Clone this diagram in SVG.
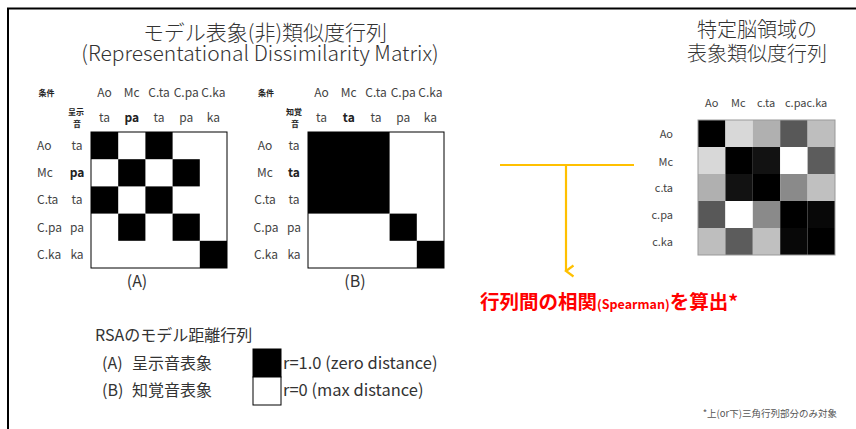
<svg xmlns="http://www.w3.org/2000/svg" width="856" height="429" viewBox="0 0 856 429">
<style>
text{font-family:"Noto Sans CJK JP","Liberation Sans",sans-serif;fill:#333}
.t{font-size:21px;font-weight:300}
.t2{font-size:20px;font-weight:300}
.h{font-size:12px;fill:#444}
.hb{font-size:12px;font-weight:bold;fill:#222}
.s{font-size:8px;font-weight:bold;fill:#222}
.rl{font-size:11px;fill:#444}
.lg{font-size:16px;fill:#333}
.blk{fill:#000}
.mx{fill:#fff;stroke:#000;stroke-width:1}
.conn{stroke:#FFC000;stroke-width:2.2;fill:none}
</style>
<defs>
<marker id="chev" markerWidth="14" markerHeight="12" refX="7" refY="9" orient="auto" markerUnits="userSpaceOnUse" viewBox="0 0 14 12">
<polyline points="1.5,1.5 7,9 12.5,1.5" fill="none" stroke="#FFC000" stroke-width="2.2"/>
</marker>
</defs>
<rect width="856" height="429" fill="#fff"/>
<g id="frame"><path d="M8 429 V8.5 H856" fill="none" stroke="#000" stroke-width="2"/></g>

<g id="title-model" text-anchor="middle">
<text class="t" x="265" y="40">モデル表象(非)類似度行列</text>
<text class="t" x="260" y="61">(Representational Dissimilarity Matrix)</text>
</g>

<g id="matrix-A">
<g text-anchor="middle">
<text class="s" x="46.5" y="96">条件</text>
<text class="s" x="76" y="115">呈示</text>
<text class="s" x="77" y="127">音</text>
<text class="h" x="104.6" y="97">Ao</text>
<text class="h" x="131.8" y="97">Mc</text>
<text class="h" x="159" y="97">C.ta</text>
<text class="h" x="186.2" y="97">C.pa</text>
<text class="h" x="213.4" y="97">C.ka</text>
<text class="h" x="104.6" y="122">ta</text>
<text class="hb" x="131.8" y="122">pa</text>
<text class="h" x="159" y="122">ta</text>
<text class="h" x="186.2" y="122">pa</text>
<text class="h" x="213.4" y="122">ka</text>
<text class="h" x="77" y="150">ta</text>
<text class="hb" x="77" y="177">pa</text>
<text class="h" x="77" y="204">ta</text>
<text class="h" x="77" y="232">pa</text>
<text class="h" x="77" y="259">ka</text>
</g>
<text class="h" x="37" y="150">Ao</text>
<text class="h" x="37" y="177">Mc</text>
<text class="h" x="37" y="204">C.ta</text>
<text class="h" x="37" y="232">C.pa</text>
<text class="h" x="37" y="259">C.ka</text>
<rect class="mx" x="91" y="132" width="136" height="136"/>
<rect class="blk" x="91" y="132" width="27.2" height="27.2"/>
<rect class="blk" x="145.4" y="132" width="27.2" height="27.2"/>
<rect class="blk" x="118.2" y="159.2" width="27.2" height="27.2"/>
<rect class="blk" x="172.6" y="159.2" width="27.2" height="27.2"/>
<rect class="blk" x="91" y="186.4" width="27.2" height="27.2"/>
<rect class="blk" x="145.4" y="186.4" width="27.2" height="27.2"/>
<rect class="blk" x="118.2" y="213.6" width="27.2" height="27.2"/>
<rect class="blk" x="172.6" y="213.6" width="27.2" height="27.2"/>
<rect class="blk" x="199.8" y="240.8" width="27.2" height="27.2"/>
<text class="lg" x="137" y="287" text-anchor="middle">(A)</text>
</g>

<g id="matrix-B">
<g text-anchor="middle">
<text class="s" x="266" y="96">条件</text>
<text class="s" x="294" y="115">知覚</text>
<text class="s" x="295" y="127">音</text>
<text class="h" x="321.6" y="97">Ao</text>
<text class="h" x="348.8" y="97">Mc</text>
<text class="h" x="376" y="97">C.ta</text>
<text class="h" x="403.2" y="97">C.pa</text>
<text class="h" x="430.4" y="97">C.ka</text>
<text class="h" x="321.6" y="122">ta</text>
<text class="hb" x="348.8" y="122">ta</text>
<text class="h" x="376" y="122">ta</text>
<text class="h" x="403.2" y="122">pa</text>
<text class="h" x="430.4" y="122">ka</text>
<text class="h" x="265" y="150">Ao</text>
<text class="h" x="265" y="177">Mc</text>
<text class="h" x="265" y="204">C.ta</text>
<text class="h" x="266" y="232">C.pa</text>
<text class="h" x="266" y="259">C.ka</text>
<text class="h" x="294" y="150">ta</text>
<text class="hb" x="294" y="177">ta</text>
<text class="h" x="294" y="204">ta</text>
<text class="h" x="294" y="232">pa</text>
<text class="h" x="294" y="259">ka</text>
</g>
<rect class="mx" x="308" y="132" width="136" height="136"/>
<rect class="blk" x="308" y="132" width="81.6" height="81.6"/>
<rect class="blk" x="389.6" y="213.6" width="27.2" height="27.2"/>
<rect class="blk" x="416.8" y="240.8" width="27.2" height="27.2"/>
<text class="lg" x="355" y="287" text-anchor="middle">(B)</text>
</g>

<g id="title-brain" text-anchor="middle">
<text class="t2" x="757" y="37">特定脳領域の</text>
<text class="t2" x="757" y="61">表象類似度行列</text>
</g>

<g id="matrix-brain">
<text class="rl" x="705" y="107">Ao</text>
<text class="rl" x="731" y="107">Mc</text>
<text class="rl" x="757" y="107">c.ta</text>
<text class="rl" x="785" y="107">c.pac.ka</text>
<g text-anchor="end">
<text class="rl" x="673" y="138">Ao</text>
<text class="rl" x="673" y="166">Mc</text>
<text class="rl" x="673" y="192">c.ta</text>
<text class="rl" x="673" y="219">c.pa</text>
<text class="rl" x="673" y="246">c.ka</text>
</g>
<g>
<rect x="698" y="120" width="27.4" height="27" fill="#000"/>
<rect x="725.4" y="120" width="27.4" height="27" fill="#d8d8d8"/>
<rect x="752.8" y="120" width="27.4" height="27" fill="#b0b0b0"/>
<rect x="780.2" y="120" width="27.4" height="27" fill="#585858"/>
<rect x="807.6" y="120" width="27.4" height="27" fill="#bebebe"/>
<rect x="698" y="147" width="27.4" height="27" fill="#d8d8d8"/>
<rect x="725.4" y="147" width="27.4" height="27" fill="#000"/>
<rect x="752.8" y="147" width="27.4" height="27" fill="#121212"/>
<rect x="780.2" y="147" width="27.4" height="27" fill="#fff"/>
<rect x="807.6" y="147" width="27.4" height="27" fill="#5c5c5c"/>
<rect x="698" y="174" width="27.4" height="27" fill="#b0b0b0"/>
<rect x="725.4" y="174" width="27.4" height="27" fill="#121212"/>
<rect x="752.8" y="174" width="27.4" height="27" fill="#000"/>
<rect x="780.2" y="174" width="27.4" height="27" fill="#8a8a8a"/>
<rect x="807.6" y="174" width="27.4" height="27" fill="#c0c0c0"/>
<rect x="698" y="201" width="27.4" height="27" fill="#585858"/>
<rect x="725.4" y="201" width="27.4" height="27" fill="#fff"/>
<rect x="752.8" y="201" width="27.4" height="27" fill="#8a8a8a"/>
<rect x="780.2" y="201" width="27.4" height="27" fill="#000"/>
<rect x="807.6" y="201" width="27.4" height="27" fill="#080808"/>
<rect x="698" y="228" width="27.4" height="27" fill="#bebebe"/>
<rect x="725.4" y="228" width="27.4" height="27" fill="#5c5c5c"/>
<rect x="752.8" y="228" width="27.4" height="27" fill="#c0c0c0"/>
<rect x="780.2" y="228" width="27.4" height="27" fill="#080808"/>
<rect x="807.6" y="228" width="27.4" height="27" fill="#000"/>
</g>
<rect x="698" y="120" width="137" height="135" fill="none" stroke="#999" stroke-width="1"/>
</g>

<g id="connectors">
<line class="conn" x1="500" y1="165" x2="634" y2="165"/>
<line class="conn" x1="566" y1="165" x2="566" y2="271" marker-end="url(#chev)"/>
</g>

<g id="result-label">
<text x="480" y="309" style="font-size:19.5px;font-weight:bold;fill:#FF0000">行列間の相関<tspan style="font-size:12.5px">(Spearman)</tspan>を算出*</text>
</g>

<g id="legend">
<text class="lg" x="95" y="341">RSAのモデル距離行列</text>
<text class="lg" x="102" y="369">(A)<tspan x="132">呈示音表象</tspan></text>
<text class="lg" x="102" y="396">(B)<tspan x="132">知覚音表象</tspan></text>
<rect x="253" y="349" width="28" height="28" fill="#000" stroke="#000"/>
<rect x="253" y="377" width="28" height="28" fill="#fff" stroke="#000"/>
<text class="lg" x="283" y="369" style="font-size:16.5px">r=1.0 (zero distance)</text>
<text class="lg" x="283" y="396" style="font-size:16.5px">r=0 (max distance)</text>
</g>

<g id="footnote">
<text x="837" y="417" text-anchor="end" style="font-size:9.5px;fill:#555">*上(or下)三角行列部分のみ対象</text>
</g>
</svg>
